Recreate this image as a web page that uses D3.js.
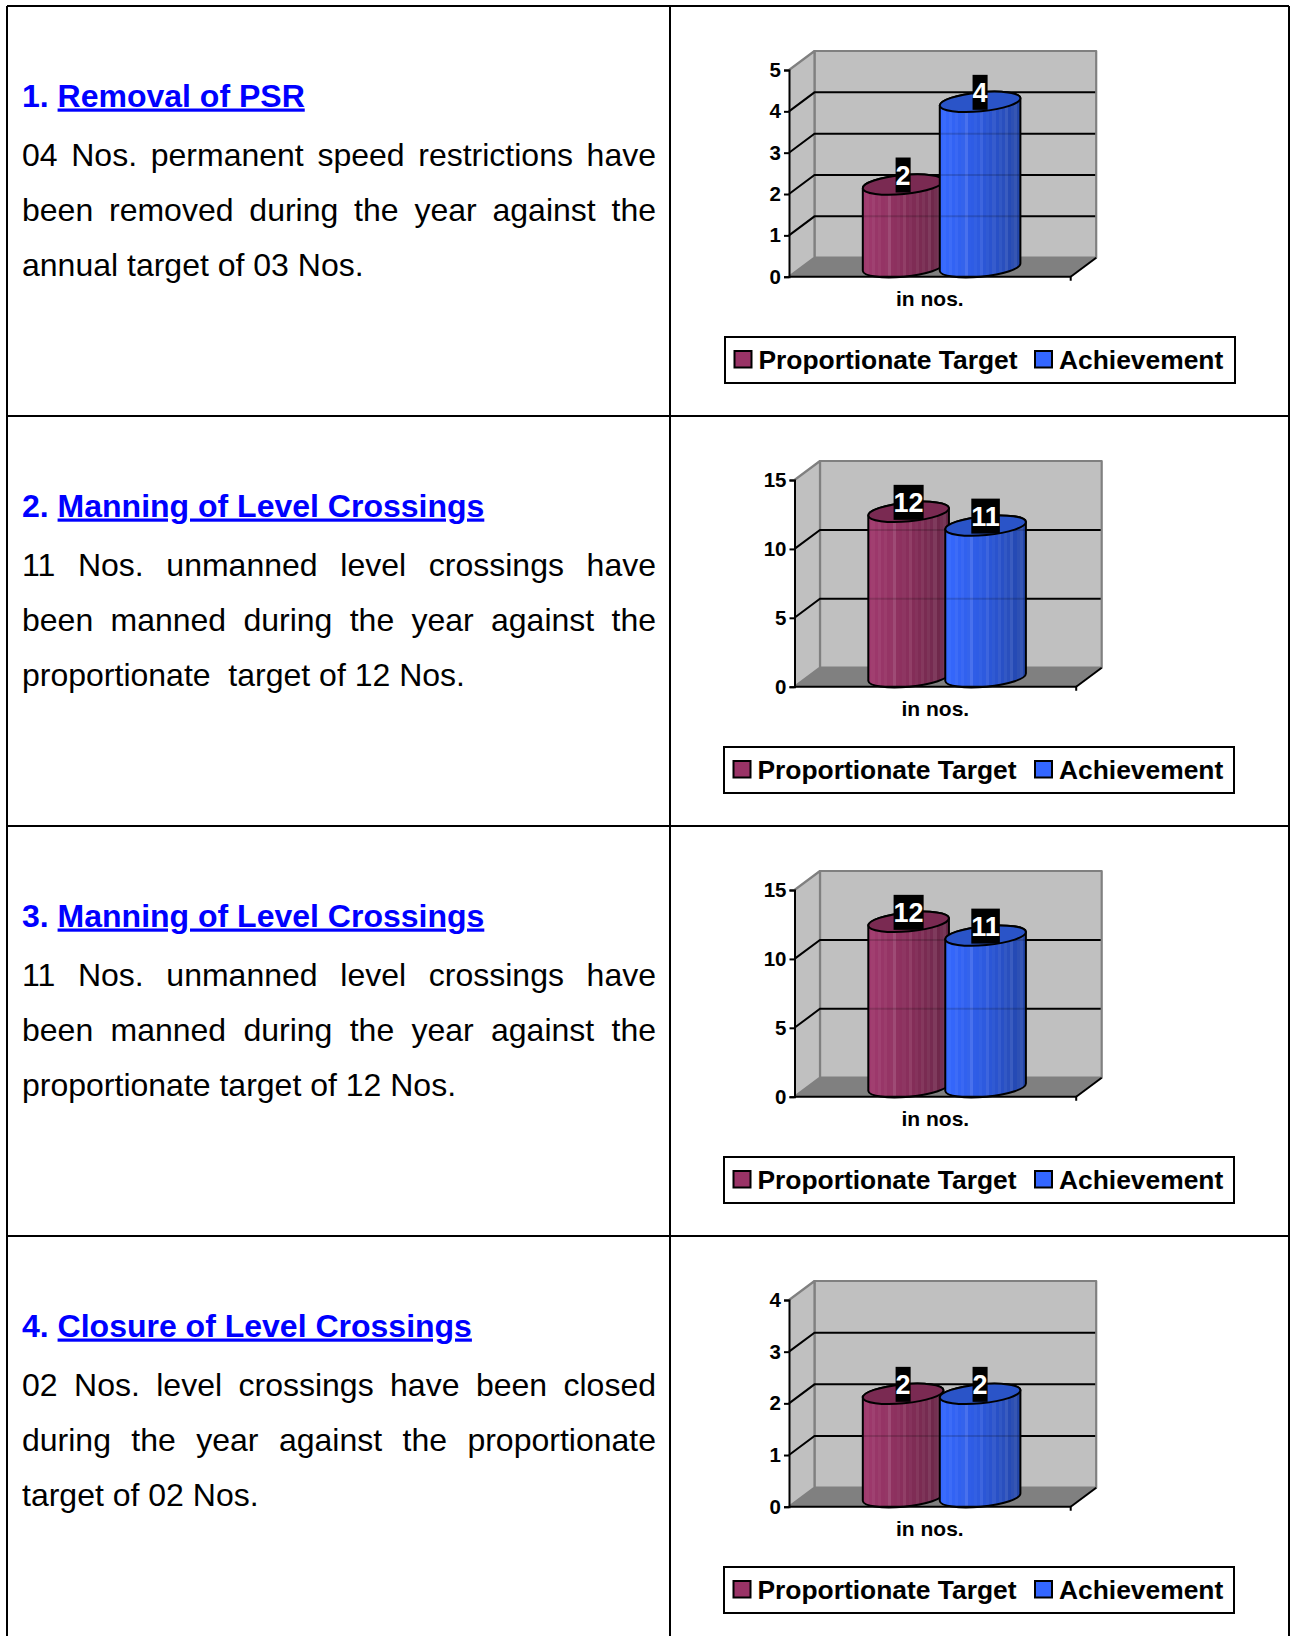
<!DOCTYPE html>
<html lang="en">
<head>
<meta charset="UTF-8">
<title>Targets and achievement</title>
<style>
    body { margin: 0; background: #fff; }
    text { font-family: "Liberation Sans", Arial, sans-serif; white-space: pre; }
</style>
</head>
<body>
<script src="https://d3js.org/d3.v7.min.js"></script>
<script>
    // values
    const seriesNames = ["Proportionate Target", "Achievement"];
    const targetValues = [2, 12, 12, 2];
    const achievedValues = [4, 11, 11, 2];
    const axisTicks = [[0, 1, 2, 3, 4, 5], [0, 5, 10, 15], [0, 5, 10, 15], [0, 1, 2, 3, 4]];
    const categoryLabel = "in nos.";

    const headingNumbers = ["1. ", "2. ", "3. ", "4. "];
    const headingTitles = ["Removal of PSR", "Manning of Level Crossings", "Manning of Level Crossings", "Closure of Level Crossings"];
    const bodyLines = [
        ["04 Nos. permanent speed restrictions have", "been removed during the year against the", "annual target of 03 Nos."],
        ["11 Nos. unmanned level crossings have", "been manned during the year against the", "proportionate  target of 12 Nos."],
        ["11 Nos. unmanned level crossings have", "been manned during the year against the", "proportionate target of 12 Nos."],
        ["02 Nos. level crossings have been closed", "during the year against the proportionate", "target of 02 Nos."]
    ];

    const width = 1294, height = 1636;
    const rowTop = [6, 416, 826, 1236];
    const rowStep = 410;
    const tableLeft = 7, tableMid = 670, tableRight = 1289;
    const textLeft = 22, textRight = 656;

    // left edge of the front axis and of the legend box differ a little per chart
    const chartLeft = [789, 794.5, 794.5, 789];
    const legendLeft = [725, 724, 724, 724];

    const depthX = 25.5, depthY = 19;
    const plotW = 281.7;
    const colors = [
        {left: "#a03a6e", mid: "#8a2f5c", right: "#652545", top: "#7a2a52", key: "#993366"},
        {left: "#3568ff", mid: "#2d5ae0", right: "#2244a4", top: "#2a54c8", key: "#3366ff"}
    ];
    // light / dark streaks across the cylinder
    const streaks = [0, .03, -.02, .05, 0, .04, -.02, .02, .12, 0, -.03, .03, 0, .08, -.02, .03, 0, .06, -.03, .05, .01, .09, -.02, .04, .08, -.01];

    const svg = d3.select("body").append("svg")
        .attr("width", width)
        .attr("height", height)
        .style("display", "block");

    const defs = svg.append("defs");
    colors.forEach(function (c, s) {
        const grad = defs.append("linearGradient").attr("id", "cyl" + s);
        const shade = d3.scaleLinear().domain([0, .45, 1]).range([c.left, c.mid, c.right]);
        streaks.forEach(function (k, i) {
            const from = i / streaks.length, to = (i + 1) / streaks.length;
            const col = d3.interpolateRgb(shade(from), "#ffffff")(Math.max(k, 0));
            grad.append("stop").attr("offset", from).attr("stop-color", col);
            grad.append("stop").attr("offset", to).attr("stop-color", col);
        });
    });

    // table
    const table = svg.append("g").attr("stroke", "#000").attr("stroke-width", 2);
    rowTop.forEach(function (y) {
        table.append("line").attr("x1", tableLeft).attr("x2", tableRight).attr("y1", y).attr("y2", y);
    });
    [tableLeft, tableMid, tableRight].forEach(function (x) {
        table.append("line").attr("x1", x).attr("x2", x).attr("y1", rowTop[0]).attr("y2", height);
    });

    // left column text
    headingTitles.forEach(function (title, r) {
        const dy = r * rowStep;
        const h = svg.append("text")
            .attr("x", textLeft)
            .attr("y", 106.5 + dy)
            .attr("fill", "#0000ff")
            .attr("font-size", 32)
            .attr("font-weight", "bold");
        h.append("tspan").text(headingNumbers[r]);
        h.append("tspan").style("text-decoration", "underline").text(title);

        bodyLines[r].forEach(function (line, i) {
            const t = svg.append("text")
                .attr("x", textLeft)
                .attr("y", 165.5 + i * 55.2 + dy)
                .attr("fill", "#000")
                .attr("font-size", 32)
                .text(line);
            // the last line of a paragraph is not justified
            if (i < 2) {
                const gaps = line.split(" ").length - 1;
                const extra = (textRight - textLeft - t.node().getComputedTextLength()) / gaps;
                t.attr("word-spacing", extra);
            }
        });
    });

    function drawChart(r) {
        const dy = r * rowStep;
        const x0 = chartLeft[r], x1 = x0 + plotW;
        const yBase = 276.7 + dy, yTop = 70 + dy;
        const ticks = axisTicks[r];
        const g = svg.append("g");

        const y = d3.scaleLinear().domain([0, d3.max(ticks)]).range([yBase, yTop]);
        const x = d3.scaleBand().domain(seriesNames)
            .range([x0 + depthX / 2 - 1, x1 + depthX / 2 - 1])
            .paddingInner(0)
            .paddingOuter(.83);

        // walls and floor
        const wall = g.append("g").attr("stroke", "#808080").attr("stroke-width", 2.2).attr("stroke-linejoin", "round");
        wall.append("rect")
            .attr("x", x0 + depthX).attr("y", yTop - depthY)
            .attr("width", plotW).attr("height", yBase - yTop)
            .attr("fill", "#c0c0c0");
        wall.append("path")
            .attr("d", d3.line()([[x0, yBase], [x0 + depthX, yBase - depthY], [x0 + depthX, yTop - depthY], [x0, yTop]]))
            .attr("fill", "#c0c0c0");
        g.append("path")
            .attr("d", d3.line()([[x0, yBase], [x0 + depthX, yBase - depthY], [x1 + depthX, yBase - depthY], [x1, yBase]]) + "Z")
            .attr("fill", "#808080");

        // gridlines, back wall and side wall
        ticks.filter(function (v) { return v > 0 && v < d3.max(ticks); }).forEach(function (v) {
            g.append("path")
                .attr("d", d3.line()([[x0, y(v)], [x0 + depthX, y(v) - depthY], [x1 + depthX - 1, y(v) - depthY]]))
                .attr("fill", "none")
                .attr("stroke", "#000")
                .attr("stroke-width", 2);
        });
        g.append("line")
            .attr("x1", x1).attr("y1", yBase)
            .attr("x2", x1 + depthX).attr("y2", yBase - depthY)
            .attr("stroke", "#000").attr("stroke-width", 2);

        // cylinders
        const rx = x.bandwidth() / 2 + 2, ry = 9.5, tilt = 5.4;
        const tiltY = rx * Math.sin(tilt * Math.PI / 180);
        const tiltX = rx * Math.cos(tilt * Math.PI / 180);
        const values = [targetValues[r], achievedValues[r]];
        seriesNames.forEach(function (name, s) {
            const cx = x(name) + x.bandwidth() / 2;
            const cyTop = y(values[s]) - depthY / 2;
            const cyBot = yBase - depthY / 2;
            const arc = "A" + rx + " " + ry + " " + (-tilt) + " 0 0 ";
            const body = "M" + (cx - tiltX) + " " + (cyTop + tiltY) +
                "L" + (cx - tiltX) + " " + (cyBot + tiltY) +
                arc + (cx + tiltX) + " " + (cyBot - tiltY) +
                "L" + (cx + tiltX) + " " + (cyTop - tiltY) +
                arc + (cx - tiltX) + " " + (cyTop + tiltY) + "Z";
            g.append("path")
                .attr("d", body)
                .attr("fill", "url(#cyl" + s + ")")
                .attr("stroke", "#000")
                .attr("stroke-width", 2);
            // gridlines show faintly through the cylinders
            ticks.filter(function (v) { return v > 0 && v < values[s]; }).forEach(function (v) {
                g.append("line")
                    .attr("x1", cx - tiltX + 1).attr("x2", cx + tiltX - 1)
                    .attr("y1", y(v) - depthY).attr("y2", y(v) - depthY)
                    .attr("stroke", "#000")
                    .attr("stroke-opacity", .16)
                    .attr("stroke-width", 2);
            });
            g.append("ellipse")
                .attr("rx", rx).attr("ry", ry)
                .attr("transform", "translate(" + cx + "," + cyTop + ") rotate(" + (-tilt) + ")")
                .attr("fill", colors[s].top)
                .attr("stroke", "#000")
                .attr("stroke-width", 2);
        });

        // data labels, white on black
        seriesNames.forEach(function (name, s) {
            const cx = x(name) + x.bandwidth() / 2;
            const cy = y(values[s]) - depthY;
            const lab = g.append("text")
                .attr("x", cx).attr("y", cy + 9.5)
                .attr("text-anchor", "middle")
                .attr("font-size", 27)
                .attr("font-weight", "bold")
                .attr("fill", "#fff")
                .text(values[s]);
            const w = lab.node().getComputedTextLength();
            g.insert("rect", function () { return lab.node(); })
                .attr("x", cx - w / 2).attr("y", cy - 17.5)
                .attr("width", w).attr("height", 35)
                .attr("fill", "#000");
        });

        // front axes
        const axis = g.append("g")
            .attr("transform", "translate(" + x0 + ",0)")
            .call(d3.axisLeft(y).tickValues(ticks).tickSize(5).tickPadding(3).tickFormat(d3.format("d")));
        axis.selectAll("path, line").attr("stroke", "#000").attr("stroke-width", 2);
        axis.selectAll("text")
            .attr("font-family", "Liberation Sans")
            .attr("font-size", 20.5)
            .attr("font-weight", "bold")
            .attr("fill", "#000");
        g.append("path")
            .attr("d", d3.line()([[x0, yBase], [x1, yBase], [x1, yBase + 4]]))
            .attr("fill", "none")
            .attr("stroke", "#000")
            .attr("stroke-width", 2);

        g.append("text")
            .attr("x", (x0 + x1) / 2).attr("y", 306 + dy)
            .attr("text-anchor", "middle")
            .attr("font-size", 21)
            .attr("font-weight", "bold")
            .text(categoryLabel);

        // legend
        const lx = legendLeft[r], ly = 337 + dy;
        g.append("rect")
            .attr("x", lx).attr("y", ly)
            .attr("width", 510).attr("height", 46)
            .attr("fill", "#fff")
            .attr("stroke", "#000")
            .attr("stroke-width", 2);
        const keyX = [lx + 9.5, 1035], textX = [lx + 33.5, 1059];
        seriesNames.forEach(function (name, s) {
            g.append("rect")
                .attr("x", keyX[s]).attr("y", ly + 14)
                .attr("width", 17).attr("height", 16.5)
                .attr("fill", colors[s].key)
                .attr("stroke", "#000")
                .attr("stroke-width", 2);
            g.append("text")
                .attr("x", textX[s]).attr("y", ly + 31.5)
                .attr("font-size", 26.4)
                .attr("font-weight", "bold")
                .text(name);
        });
    }

    headingTitles.forEach(function (d, r) { drawChart(r); });
</script>
</body>
</html>
